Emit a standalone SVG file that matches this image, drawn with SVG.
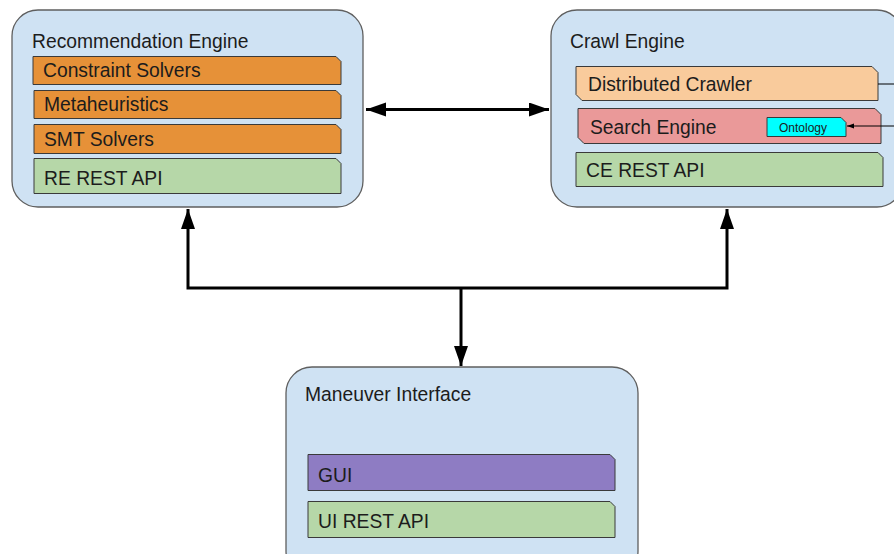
<svg xmlns="http://www.w3.org/2000/svg" width="894" height="554" viewBox="0 0 894 554">
<style>
.eng{fill:#cfe2f3;stroke:#5f5f5f;stroke-width:1.3}
.t{font-family:"Liberation Sans",Arial,sans-serif;font-size:19.3px;fill:#1c1c1c}
.sub{stroke:#3a3a3a;stroke-width:1}
.or{fill:#e69138}
.lo{fill:#f9cb9c}
.rd{fill:#ea9999}
.gr{fill:#b6d7a8}
.pu{fill:#8e7cc3}
.cy{fill:#00ffff}
.con{fill:none;stroke:#000;stroke-width:3}
.thin{fill:none;stroke:#000;stroke-width:1}
</style>
<defs>
<marker id="ah" markerUnits="userSpaceOnUse" markerWidth="22" markerHeight="16" refX="20" refY="7" orient="auto-start-reverse">
<path d="M0,0 L20,7 L0,14 Z" fill="#000"/>
</marker>
<marker id="ahs" markerUnits="userSpaceOnUse" markerWidth="8" markerHeight="6" refX="7" refY="2.5" orient="auto">
<path d="M0,0 L7,2.5 L0,5 Z" fill="#000"/>
</marker>
</defs>

<g id="recommendation-engine">
<rect class="eng" x="12" y="10" width="351" height="197" rx="26" ry="26"/>
<text class="t" x="32" y="48">Recommendation Engine</text>
<g id="constraint-solvers">
<path class="sub or" d="M33,56.5 H336 L341,61.5 V84.5 H33 Z"/>
<text class="t" x="43" y="77">Constraint Solvers</text>
</g>
<g id="metaheuristics">
<path class="sub or" d="M34,90.5 H336 L341,95.5 V118.5 H34 Z"/>
<text class="t" x="44" y="111">Metaheuristics</text>
</g>
<g id="smt-solvers">
<path class="sub or" d="M34,124.5 H336 L341,129.5 V153.5 H34 Z"/>
<text class="t" x="44" y="146">SMT Solvers</text>
</g>
<g id="re-rest-api">
<path class="sub gr" d="M34,158.5 H336 L341,163.5 V193.5 H34 Z"/>
<text class="t" x="44" y="185">RE REST API</text>
</g>
</g>

<g id="crawl-engine">
<rect class="eng" x="551" y="10" width="352" height="197" rx="26" ry="26"/>
<text class="t" x="570" y="48">Crawl Engine</text>
<g id="distributed-crawler">
<path class="sub lo" d="M576,66.5 H872 L878,72.5 V100.5 H582 L576,94.5 Z"/>
<text class="t" x="588" y="91">Distributed Crawler</text>
</g>
<g id="search-engine">
<path class="sub rd" d="M578,108.5 H875 L881,114.5 V143.5 H584 L578,137.5 Z"/>
<text class="t" x="590" y="134">Search Engine</text>
</g>
<g id="ontology">
<path class="sub cy" d="M767,117.5 H841 L846,122.5 V136.5 H767 Z"/>
<text x="803" y="132" text-anchor="middle" style="font-family:'Liberation Sans',Arial,sans-serif;font-size:12px;fill:#1c1c1c">Ontology</text>
</g>
<g id="ce-rest-api">
<path class="sub gr" d="M576,152.5 H878 L883,157.5 V186.5 H576 Z"/>
<text class="t" x="586" y="177">CE REST API</text>
</g>
</g>

<g id="maneuver-interface">
<rect class="eng" x="286" y="367" width="352" height="210" rx="26" ry="26"/>
<text class="t" x="305" y="401">Maneuver Interface</text>
<g id="gui">
<path class="sub pu" d="M308,454.5 H610 L615,459.5 V490.5 H308 Z"/>
<text class="t" x="318" y="482">GUI</text>
</g>
<g id="ui-rest-api">
<path class="sub gr" d="M308,501.5 H610 L615,506.5 V537.5 H308 Z"/>
<text class="t" x="318" y="528">UI REST API</text>
</g>
</g>

<g id="connectors">
<line class="con" x1="366" y1="109.5" x2="549" y2="109.5" marker-start="url(#ah)" marker-end="url(#ah)"/>
<path class="con" d="M188,209 V288 H727 V209" marker-start="url(#ah)" marker-end="url(#ah)"/>
<path class="con" d="M461,288 V366" marker-end="url(#ah)"/>
<line class="thin" x1="878" y1="84" x2="894" y2="84"/>
<line class="thin" x1="894" y1="126" x2="847" y2="126" marker-end="url(#ahs)"/>
</g>
</svg>
